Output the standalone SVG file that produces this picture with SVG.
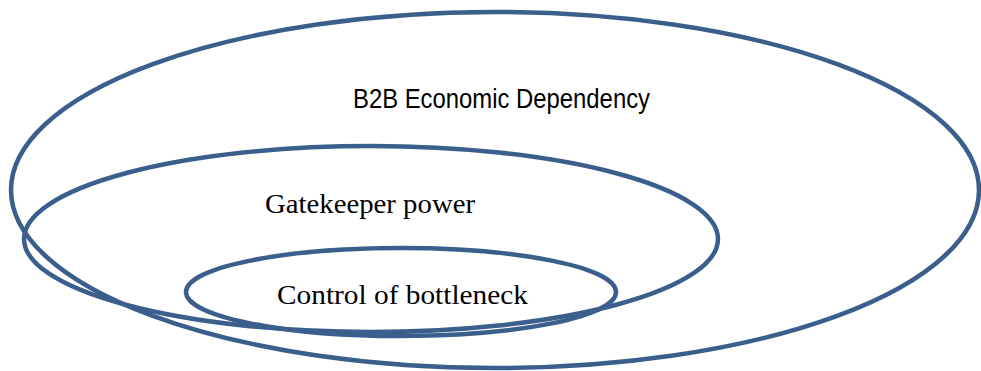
<svg xmlns="http://www.w3.org/2000/svg" width="981" height="371" viewBox="0 0 981 371">
<style>
.ring{fill:none;stroke:#3B5F8D;stroke-width:4.5}
.sans{font-family:"Liberation Sans",Arial,sans-serif;font-size:27px;fill:#000}
.serif{font-family:"Liberation Serif","Times New Roman",serif;font-size:28px;fill:#000}
</style>
<rect width="981" height="371" fill="#fff"/>
<g id="outer">
<ellipse class="ring" cx="495" cy="190" rx="484" ry="178"/>
<text class="sans" x="353" y="108" textLength="297" lengthAdjust="spacingAndGlyphs">B2B Economic Dependency</text>
</g>
<g id="middle">
<ellipse class="ring" cx="371" cy="239" rx="347" ry="93"/>
<text class="serif" x="265" y="213" textLength="210" lengthAdjust="spacingAndGlyphs">Gatekeeper power</text>
</g>
<g id="inner">
<ellipse class="ring" cx="401" cy="292" rx="215" ry="44"/>
<text class="serif" x="277" y="304" textLength="251" lengthAdjust="spacingAndGlyphs">Control of bottleneck</text>
</g>
<g id="connectors"></g>
</svg>
